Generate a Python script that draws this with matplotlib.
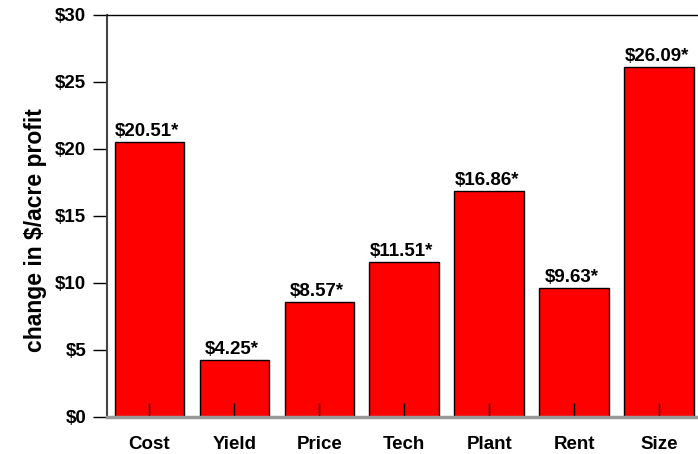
import matplotlib.pyplot as plt
import numpy as np

categories = ['Cost', 'Yield', 'Price', 'Tech', 'Plant', 'Rent', 'Size']
values = [20.51, 4.25, 8.57, 11.51, 16.86, 9.63, 26.09]
labels = ['$20.51*', '$4.25*', '$8.57*', '$11.51*', '$16.86*', '$9.63*', '$26.09*']
yticks = [0, 5, 10, 15, 20, 25, 30]

plt.rcParams['font.family'] = ['Liberation Sans', 'DejaVu Sans']
plt.rcParams['font.weight'] = 'bold'

fig = plt.figure(figsize=(6.98, 4.54), dpi=100)
ax = fig.add_axes([107 / 698, 37.5 / 454, 594.5 / 698, 401.5 / 454])

x = np.arange(len(categories))
ax.bar(x, values, width=0.82, color='#ff0000', edgecolor='black', linewidth=1)
for xi, v, lab in zip(x, values, labels):
    ax.text(xi - 0.03, v + 0.15, lab, ha='center', va='bottom', fontsize=13.5, fontweight='bold')

ax.set_xlim(-0.5, 6.5)
ax.set_ylim(0, 30)
ax.set_yticks(yticks)
ax.set_yticklabels([f'${t}' for t in yticks], fontsize=13.5, fontweight='bold')
ax.set_xticks(x)
ax.set_xticklabels(categories, fontsize=13.5, fontweight='bold')
ax.tick_params(axis='y', direction='out', length=10, width=1, pad=5)
ax.tick_params(axis='x', direction='in', length=10, width=1, pad=14)
ax.set_ylabel('change in $/acre profit', fontsize=16.5, fontweight='bold', labelpad=6)
ax.yaxis.label.set_y(0.465)

ax.spines['right'].set_visible(False)
ax.spines['top'].set_linewidth(1)
ax.spines['left'].set_color('#444444')
ax.spines['left'].set_linewidth(1.5)
ax.spines['bottom'].set_color('#999999')
ax.spines['bottom'].set_linewidth(2.5)

plt.savefig('out.png', dpi=100)
